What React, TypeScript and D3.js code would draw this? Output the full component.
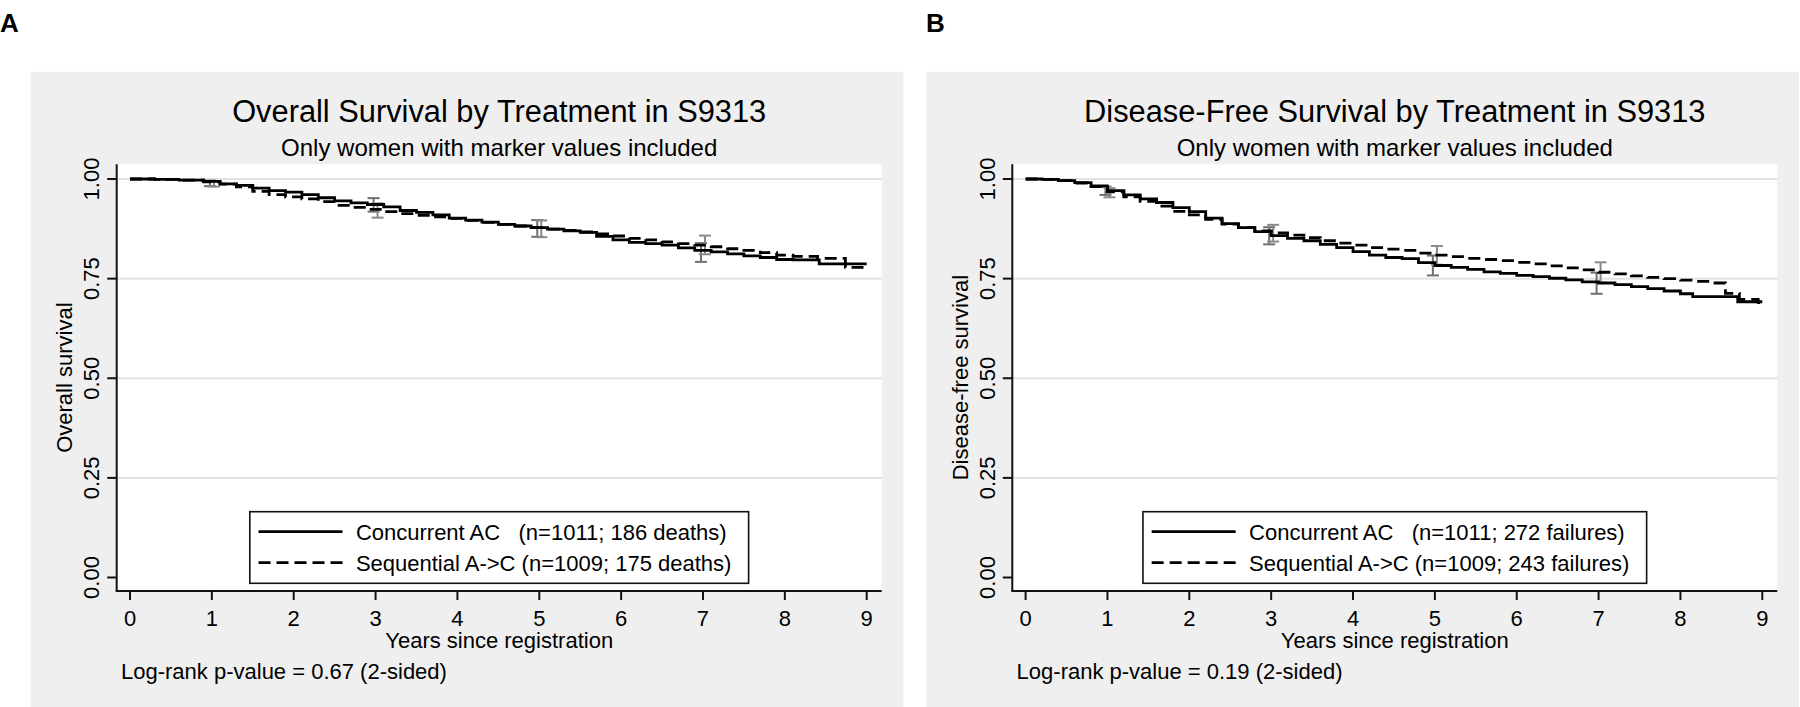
import React from "react";
import * as d3 from "d3";

// ---------- DATA ----------
const yearTicks = [0, 1, 2, 3, 4, 5, 6, 7, 8, 9];
const survTicks = [0, 0.25, 0.5, 0.75, 1];

// Panel A: overall survival (Kaplan-Meier step points)
const osConcT = [0, 0.3, 0.6, 0.9, 1.1, 1.3, 1.5, 1.7, 1.9, 2.1, 2.3, 2.5, 2.7, 2.9, 3.1, 3.3, 3.5, 3.7, 3.9, 4.1, 4.3, 4.5, 4.7, 4.9, 5.1, 5.3, 5.5, 5.7, 5.9, 6.1, 6.3, 6.5, 6.7, 6.9, 7.1, 7.3, 7.5, 7.7, 7.9, 8.1, 8.42, 9.0];
const osConcS = [1.0, 0.999, 0.997, 0.994, 0.988, 0.984, 0.977, 0.971, 0.967, 0.961, 0.953, 0.945, 0.94, 0.936, 0.93, 0.921, 0.916, 0.91, 0.902, 0.897, 0.892, 0.886, 0.882, 0.878, 0.874, 0.87, 0.866, 0.856, 0.847, 0.841, 0.838, 0.834, 0.827, 0.821, 0.817, 0.812, 0.807, 0.803, 0.798, 0.797, 0.787, 0.787];
const osSeqT = [0, 0.3, 0.6, 0.9, 1.1, 1.3, 1.5, 1.7, 1.9, 2.1, 2.3, 2.5, 2.7, 2.9, 3.1, 3.3, 3.5, 3.7, 3.9, 4.1, 4.3, 4.5, 4.7, 4.9, 5.1, 5.3, 5.5, 5.7, 5.9, 6.1, 6.3, 6.5, 6.7, 6.9, 7.1, 7.3, 7.5, 7.7, 7.9, 8.1, 8.4, 8.74, 9.0];
const osSeqS = [1.0, 0.999, 0.997, 0.993, 0.987, 0.98, 0.969, 0.961, 0.955, 0.95, 0.943, 0.934, 0.929, 0.924, 0.918, 0.913, 0.909, 0.905, 0.901, 0.896, 0.891, 0.886, 0.882, 0.878, 0.874, 0.871, 0.867, 0.862, 0.857, 0.851, 0.847, 0.842, 0.838, 0.834, 0.83, 0.825, 0.821, 0.815, 0.809, 0.806, 0.801, 0.778, 0.778];

// Panel B: disease-free survival
const dfsConcT = [0, 0.2, 0.4, 0.6, 0.8, 1.0, 1.2, 1.4, 1.6, 1.8, 2.0, 2.2, 2.4, 2.6, 2.8, 3.0, 3.2, 3.4, 3.6, 3.8, 4.0, 4.2, 4.4, 4.6, 4.8, 5.0, 5.2, 5.4, 5.6, 5.8, 6.0, 6.2, 6.4, 6.6, 6.8, 7.0, 7.2, 7.4, 7.6, 7.8, 8.0, 8.15, 8.7, 9.0];
const dfsConcS = [1.0, 0.999, 0.996, 0.991, 0.983, 0.971, 0.96, 0.95, 0.941, 0.928, 0.918, 0.902, 0.888, 0.878, 0.868, 0.858, 0.851, 0.845, 0.836, 0.828, 0.818, 0.809, 0.803, 0.8, 0.79, 0.783, 0.778, 0.773, 0.767, 0.763, 0.758, 0.755, 0.751, 0.747, 0.742, 0.739, 0.735, 0.73, 0.725, 0.719, 0.712, 0.705, 0.692, 0.692];
const dfsSeqT = [0, 0.2, 0.4, 0.6, 0.8, 1.0, 1.2, 1.4, 1.6, 1.8, 2.0, 2.2, 2.4, 2.6, 2.8, 3.0, 3.2, 3.4, 3.6, 3.8, 4.0, 4.2, 4.4, 4.6, 4.8, 5.0, 5.2, 5.4, 5.6, 5.8, 6.0, 6.2, 6.4, 6.6, 6.8, 7.0, 7.2, 7.4, 7.6, 7.8, 8.0, 8.2, 8.4, 8.55, 8.72, 8.95, 9.0];
const dfsSeqS = [1.0, 0.999, 0.996, 0.99, 0.981, 0.968, 0.955, 0.944, 0.932, 0.919, 0.91, 0.899, 0.887, 0.878, 0.87, 0.865, 0.859, 0.853, 0.845, 0.839, 0.834, 0.828, 0.824, 0.821, 0.814, 0.809, 0.805, 0.801, 0.798, 0.795, 0.791, 0.787, 0.782, 0.777, 0.772, 0.766, 0.762, 0.757, 0.753, 0.75, 0.746, 0.743, 0.739, 0.713, 0.698, 0.69, 0.69];

// Confidence intervals at selected years
const ciYears = [1, 3, 5, 7];
const osConcLo = [0.982, 0.918, 0.855, 0.792];
const osConcHi = [0.996, 0.952, 0.897, 0.839];
const osSeqLo = [0.981, 0.903, 0.854, 0.811];
const osSeqHi = [0.995, 0.939, 0.896, 0.858];
const dfsConcLo = [0.96, 0.836, 0.758, 0.712];
const dfsConcHi = [0.981, 0.879, 0.808, 0.765];
const dfsSeqLo = [0.954, 0.843, 0.785, 0.74];
const dfsSeqHi = [0.977, 0.885, 0.832, 0.791];

const panelLetters = ["A", "B"];
const titles = ["Overall Survival by Treatment in S9313", "Disease-Free Survival by Treatment in S9313"];
const subtitle = "Only women with marker values included";
const yTitles = ["Overall survival", "Disease-free survival"];
const xTitle = "Years since registration";
const legendA = ["Concurrent AC   (n=1011; 186 deaths)", "Sequential A->C (n=1009; 175 deaths)"];
const legendB = ["Concurrent AC   (n=1011; 272 failures)", "Sequential A->C (n=1009; 243 failures)"];
const pTexts = ["Log-rank p-value = 0.67 (2-sided)", "Log-rank p-value = 0.19 (2-sided)"];

// ---------- LAYOUT ----------
const W = 1800;
const H = 707;
const FONT = '"Liberation Sans", Arial, Helvetica, sans-serif';
const PANEL_DX = 895.6;
const PANEL = { x: 30.7, y: 71.7, w: 872.6 };
const PLOT = { left: 116.7, right: 881.7, top: 164.3, bottom: 591 };
const X0 = 130, X9 = 866.7, Y0 = 577.5, Y1 = 179;
const DASH = "12,6";

function measure(text: string, size: number): number {
  if (typeof document === "undefined") return text.length * size * 0.5;
  const c = document.createElement("canvas");
  const ctx = c.getContext("2d");
  if (!ctx) return text.length * size * 0.5;
  ctx.font = `${size}px "Liberation Sans", Arial, sans-serif`;
  return ctx.measureText(text).width;
}

type Curve = { t: number[]; s: number[]; dashed: boolean };
type CI = { lo: number[]; hi: number[]; color: string; off: number };

function Panel(props: {
  idx: number;
  curves: Curve[];
  cis: CI[];
  legend: string[];
}) {
  const { idx, curves, cis, legend } = props;
  const dx = idx * PANEL_DX;
  const x = d3.scaleLinear().domain([0, 9]).range([X0 + dx, X9 + dx]);
  const y = d3.scaleLinear().domain([0, 1]).range([Y0, Y1]);
  const left = PLOT.left + dx;
  const right = PLOT.right + dx;
  const cx = (left + right) / 2;
  const cy = (PLOT.top + PLOT.bottom) / 2;

  const line = d3
    .line<[number, number]>()
    .x((d) => x(d[0]))
    .y((d) => y(d[1]))
    .curve(d3.curveStepAfter);

  const textW = Math.max(...legend.map((l) => measure(l, 22)));
  const legW = 8.7 + 84 + 13.4 + textW + 16;
  const legX = cx - legW / 2;
  const legTop = 511.7;
  const legBot = 583.3;
  const rowY = [531.7, 562.7];

  return (
    <g>
      <rect x={PANEL.x + dx} y={PANEL.y} width={PANEL.w} height={H - PANEL.y} fill="#efefef" />
      <rect x={left} y={PLOT.top} width={right - left} height={PLOT.bottom - PLOT.top} fill="#ffffff" />
      {/* gridlines */}
      {survTicks
        .filter((v) => v > 0)
        .map((v) => (
          <line key={"g" + v} x1={left} x2={right} y1={y(v)} y2={y(v)} stroke="#e3e3e3" strokeWidth={2} />
        ))}
      {/* title */}
      <text x={cx} y={122} textAnchor="middle" fontSize={30.8} fontFamily={FONT} fill="#000">
        {titles[idx]}
      </text>
      <text x={cx} y={156} textAnchor="middle" fontSize={24} fontFamily={FONT} fill="#000">
        {subtitle}
      </text>
      {/* CI bars */}
      {cis.map((ci, k) =>
        ciYears.map((yr, i) => {
          const xx = x(yr) + ci.off;
          return (
            <g key={"ci" + k + "-" + i} stroke={ci.color} strokeWidth={2} fill="none">
              <line x1={xx} x2={xx} y1={y(ci.lo[i])} y2={y(ci.hi[i])} />
              <line x1={xx - 6} x2={xx + 6} y1={y(ci.lo[i])} y2={y(ci.lo[i])} />
              <line x1={xx - 6} x2={xx + 6} y1={y(ci.hi[i])} y2={y(ci.hi[i])} />
            </g>
          );
        })
      )}
      {/* curves */}
      {curves.map((c, k) => (
        <path
          key={"c" + k}
          d={line(c.t.map((t, i) => [t, c.s[i]] as [number, number])) || ""}
          fill="none"
          stroke="#000"
          strokeWidth={2.8}
          strokeDasharray={c.dashed ? DASH : undefined}
        />
      ))}
      {/* axes */}
      <line x1={left} x2={left} y1={PLOT.top} y2={PLOT.bottom} stroke="#111" strokeWidth={2} />
      <line x1={left - 1} x2={right} y1={PLOT.bottom} y2={PLOT.bottom} stroke="#111" strokeWidth={2} />
      {survTicks.map((v) => (
        <g key={"yt" + v}>
          <line x1={left - 9.5} x2={left} y1={y(v)} y2={y(v)} stroke="#111" strokeWidth={2} />
          <text
            transform={`translate(${left - 17.3},${y(v)}) rotate(-90)`}
            textAnchor="middle"
            fontSize={22}
            fontFamily={FONT}
            fill="#000"
          >
            {d3.format(".2f")(v)}
          </text>
        </g>
      ))}
      {yearTicks.map((t) => (
        <g key={"xt" + t}>
          <line x1={x(t)} x2={x(t)} y1={PLOT.bottom} y2={PLOT.bottom + 9} stroke="#111" strokeWidth={2} />
          <text x={x(t)} y={625.8} textAnchor="middle" fontSize={22} fontFamily={FONT} fill="#000">
            {t}
          </text>
        </g>
      ))}
      <text x={cx} y={647.5} textAnchor="middle" fontSize={22} fontFamily={FONT} fill="#000">
        {xTitle}
      </text>
      <text
        transform={`translate(${left - 44.5},${cy}) rotate(-90)`}
        textAnchor="middle"
        fontSize={22}
        fontFamily={FONT}
        fill="#000"
      >
        {yTitles[idx]}
      </text>
      {/* legend */}
      <rect x={legX} y={legTop} width={legW} height={legBot - legTop} fill="#fff" stroke="#111" strokeWidth={1.6} />
      {legend.map((lab, i) => (
        <g key={"l" + i}>
          <line
            x1={legX + 8.7}
            x2={legX + 8.7 + 84}
            y1={rowY[i]}
            y2={rowY[i]}
            stroke="#000"
            strokeWidth={2.8}
            strokeDasharray={curves[i].dashed ? DASH : undefined}
          />
          <text
            x={legX + 8.7 + 84 + 13.4}
            y={rowY[i] + 8}
            fontSize={22}
            fontFamily={FONT}
            fill="#000"
            style={{ whiteSpace: "pre" }}
          >
            {lab}
          </text>
        </g>
      ))}
      <text x={left + 4.3} y={678.5} fontSize={22} fontFamily={FONT} fill="#000">
        {pTexts[idx]}
      </text>
    </g>
  );
}

export default function App() {
  const curvesA: Curve[] = [
    { t: osConcT, s: osConcS, dashed: false },
    { t: osSeqT, s: osSeqS, dashed: true },
  ];
  const curvesB: Curve[] = [
    { t: dfsConcT, s: dfsConcS, dashed: false },
    { t: dfsSeqT, s: dfsSeqS, dashed: true },
  ];
  const cisA: CI[] = [
    { lo: osConcLo, hi: osConcHi, color: "#6f6f6f", off: -2 },
    { lo: osSeqLo, hi: osSeqHi, color: "#8a8a8a", off: 2 },
  ];
  const cisB: CI[] = [
    { lo: dfsConcLo, hi: dfsConcHi, color: "#6f6f6f", off: -2 },
    { lo: dfsSeqLo, hi: dfsSeqHi, color: "#8a8a8a", off: 2 },
  ];
  return (
    <svg
      width={W}
      height={H}
      viewBox={`0 0 ${W} ${H}`}
      style={{ position: "absolute", left: 0, top: 0, display: "block", background: "#fff" }}
    >
      <rect x={0} y={0} width={W} height={H} fill="#fff" />
      <Panel idx={0} curves={curvesA} cis={cisA} legend={legendA} />
      <Panel idx={1} curves={curvesB} cis={cisB} legend={legendB} />
      {panelLetters.map((l, i) => (
        <text key={l} x={i === 0 ? 0 : 926} y={32} fontSize={26} fontWeight="bold" fontFamily={FONT} fill="#000">
          {l}
        </text>
      ))}
    </svg>
  );
}
